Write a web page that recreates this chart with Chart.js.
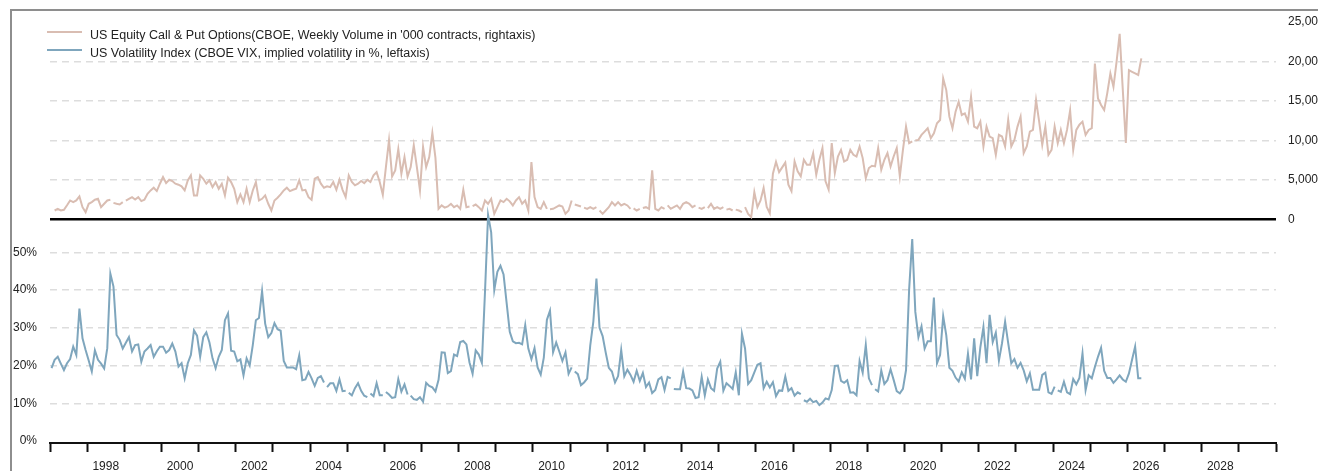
<!DOCTYPE html>
<html>
<head>
<meta charset="utf-8">
<title>US Equity Options Volume and VIX</title>
<script src="https://cdn.jsdelivr.net/npm/chart.js@4.4.1/dist/chart.umd.min.js"></script>
<style>
  html, body { margin: 0; padding: 0; background: #fff; }
  #wrap { width: 1318px; height: 471px; }
</style>
</head>
<body>
<div id="wrap"><canvas id="chart" width="1318" height="471"></canvas></div>
<script>
// monthly values from Jan 1997, one row per year (Jan..Dec)
const firstYear = 1997;

// US Equity Call & Put Options, weekly volume in '000 contracts (right axis)
const optionVolume = [
  null, 1140, 1350, 1140, 1230, 1800, 2410, 2200, 2410, 2920, 1560, 930, // 1997
  1990, 2200, 2500, 2620, 1560, 1990, 2410, 2500, 2100, 1990, 1900, 2200, // 1998
  2400, 2620, 2830, 2540, 2830, 2330, 2500, 3260, 3680, 4020, 3600, 4530, // 1999
  5370, 4610, 5030, 4860, 4530, 4400, 4190, 3680, 4950, 5580, 3050, 3050, // 2000
  5580, 5160, 4530, 4950, 4100, 4740, 3890, 4530, 3050, 5290, 4740, 3890, // 2001
  2200, 3170, 2200, 3890, 2200, 3680, 4740, 2410, 2620, 3050, 1990, 1140, // 2002
  2410, 2750, 3170, 3680, 4020, 3600, 3760, 3890, 4950, 3680, 3760, 2830, // 2003
  2500, 5160, 5370, 4530, 4020, 4190, 4100, 4740, 3760, 5030, 3760, 2830, // 2004
  5580, 4740, 4320, 4530, 4870, 4610, 5030, 4740, 5580, 6000, 4740, 3130, // 2005
  6640, 10030, 5450, 6220, 8900, 5800, 7900, 5450, 6640, 9390, 6640, 3680, // 2006
  9180, 6640, 7900, 10950, 7800, 1350, 1780, 1500, 1650, 1990, 1560, 1780, // 2007
  1350, 3770, 1560, 1650, 1700, 1900, 1560, 1140, 2410, 1990, 2620, 720, // 2008
  1560, 2410, 2200, 2620, 2300, 1780, 2410, 2830, 1990, 2410, 1140, 7270, // 2009
  2830, 1570, 1350, 2200, 1350, 1300, 1350, 1560, 1780, 1650, 720, 1140, // 2010
  2410, 1900, 1780, 1650, 1500, 1350, 1560, 1350, 1560, 1140, 720, 1140, // 2011
  1560, 2200, 1780, 2200, 1780, 1990, 1780, 1350, 1400, 1140, 1350, 1450, // 2012
  1560, 1350, 6220, 1350, 1140, 1560, 1350, 1780, 1350, 1560, 1780, 1350, // 2013
  1990, 2200, 1990, 1560, 1780, 1500, 1350, 1560, 1450, 1990, 1350, 1560, // 2014
  1350, 1560, 1250, 1350, 1140, 1250, 1140, 930, 1560, 700, 300, 3470, // 2015
  1560, 2400, 4000, 1600, 800, 5800, 7300, 6000, 6600, 7200, 4400, 3600, // 2016
  7350, 6090, 5460, 7560, 6930, 6930, 8400, 5670, 7560, 9030, 4830, 3780, // 2017
  9660, 5880, 7980, 8820, 7350, 7560, 8820, 8190, 7980, 9240, 7770, 5250, // 2018
  6510, 6800, 6720, 9030, 6300, 7560, 8400, 6720, 7980, 9030, 5460, 8820, // 2019
  11760, 9660, 9900, 10000, 10080, 10710, 11130, 11550, 10290, 10920, 12180, 12600, // 2020
  17850, 16380, 13020, 11550, 13650, 14910, 13230, 13440, 12390, 15540, 11760, 11550, // 2021
  12390, 9240, 11760, 10500, 10290, 8190, 10710, 10500, 9240, 12600, 9240, 10080, // 2022
  11760, 13020, 8400, 9240, 11130, 11340, 15120, 12390, 9450, 11760, 8190, 8820, // 2023
  11760, 9660, 11340, 9660, 11340, 13800, 8820, 11340, 12000, 12390, 10710, 11340, // 2024
  11550, 19740, 15330, 14500, 13860, 16000, 18480, 16800, 19950, 23500, 16500, 9700, // 2025
  18900, 18700, 18500, 18300, 20400, // 2026
];

// CBOE VIX month-end level, % (left axis)
const vixLevel = [
  19.3, 21.5, 22.3, 20.5, 18.8, 20.6, 21.7, 25.0, 22.8, 35.1, 27.2, 24.1, // 1997
  21.3, 18.4, 24.0, 21.5, 20.5, 19.2, 24.6, 44.3, 40.9, 28.1, 26.8, 24.5, // 1998
  26.0, 27.5, 23.7, 25.4, 25.6, 21.0, 23.7, 24.5, 25.4, 22.3, 23.8, 25.0, // 1999
  25.0, 23.4, 24.1, 25.8, 23.7, 19.7, 20.6, 16.6, 20.6, 22.8, 29.3, 27.9, // 2000
  22.3, 27.5, 28.8, 26.1, 21.9, 19.3, 22.3, 24.1, 32.0, 33.8, 23.9, 23.7, // 2001
  21.1, 21.6, 17.4, 21.9, 20.0, 25.4, 32.0, 32.6, 39.7, 31.1, 27.5, 28.6, // 2002
  31.2, 29.6, 29.2, 21.2, 19.5, 19.5, 19.5, 19.0, 22.7, 16.1, 16.3, 18.3, // 2003
  16.6, 14.6, 16.7, 17.2, 15.5, 14.3, 15.3, 15.3, 13.3, 16.3, 13.2, 13.3, // 2004
  12.8, 12.1, 14.0, 15.3, 13.3, 12.0, 11.6, 12.6, 11.9, 15.3, 12.1, 12.1, // 2005
  13.0, 12.3, 11.4, 11.6, 16.4, 13.1, 15.0, 12.3, 12.0, 11.1, 10.9, 11.6, // 2006
  10.4, 15.4, 14.6, 14.2, 13.1, 16.2, 23.5, 23.4, 18.0, 18.5, 22.9, 22.5, // 2007
  26.2, 26.5, 25.6, 20.8, 17.8, 24.0, 22.9, 20.7, 39.4, 59.9, 55.3, 40.0, // 2008
  44.8, 46.4, 44.1, 36.5, 28.9, 26.4, 25.9, 26.0, 25.6, 30.7, 24.5, 21.7, // 2009
  24.6, 19.5, 17.6, 22.1, 32.1, 34.5, 23.5, 26.1, 23.7, 21.2, 23.5, 17.8, // 2010
  19.5, 18.4, 17.7, 14.8, 15.5, 16.5, 25.3, 31.6, 43.0, 30.0, 27.8, 23.4, // 2011
  19.4, 18.4, 15.5, 17.2, 24.1, 17.1, 18.9, 17.5, 15.7, 18.6, 15.9, 18.0, // 2012
  14.3, 15.5, 12.7, 13.5, 16.3, 16.9, 13.5, 17.0, 16.6, 13.8, 13.7, 13.7, // 2013
  18.4, 14.0, 13.9, 13.4, 11.4, 11.6, 17.0, 12.1, 16.3, 14.0, 13.3, 19.2, // 2014
  21.0, 13.3, 15.3, 14.6, 13.8, 18.2, 12.1, 28.4, 24.5, 15.1, 16.1, 18.2, // 2015
  20.2, 20.6, 14.0, 15.7, 14.2, 15.6, 11.9, 13.4, 13.3, 17.1, 13.3, 14.0, // 2016
  12.0, 12.9, 12.4, 10.8, 10.4, 11.2, 10.3, 10.6, 9.5, 10.2, 11.3, 11.0, // 2017
  13.5, 19.9, 20.0, 15.9, 15.4, 16.1, 12.8, 12.9, 12.1, 21.2, 18.1, 25.4, // 2018
  16.6, 14.8, 13.7, 13.1, 18.7, 15.1, 16.1, 19.0, 16.2, 13.2, 12.6, 13.8, // 2019
  18.8, 40.1, 53.5, 34.2, 27.5, 30.4, 24.5, 26.4, 26.4, 38.0, 20.6, 22.8, // 2020
  33.1, 28.0, 19.4, 18.6, 16.8, 15.8, 18.2, 16.5, 23.1, 16.3, 27.2, 17.2, // 2021
  24.8, 30.2, 20.6, 33.4, 26.2, 28.7, 21.3, 25.9, 31.6, 25.9, 20.6, 21.7, // 2022
  19.4, 20.7, 18.7, 15.8, 17.9, 13.6, 13.6, 13.6, 17.5, 18.1, 12.9, 12.5, // 2023
  14.4, 13.4, 13.0, 15.7, 12.9, 12.4, 16.4, 15.0, 16.7, 23.2, 13.5, 17.4, // 2024
  16.6, 19.6, 22.3, 24.7, 18.6, 16.7, 16.7, 15.4, 16.3, 17.4, 16.3, 15.7, // 2025
  17.9, 21.5, 25.0, 16.6, 16.6, // 2026
];

// months after which the source line is broken (no segment to the next month)
const optionBreaks = ["1998-08", "1998-12", "2008-04", "2010-05", "2011-01", "2011-04", "2011-09",
  "2012-08", "2012-11", "2013-07", "2014-05", "2014-08", "2015-02", "2015-05", "2015-08", "2020-03"];
const vixBreaks = ["2004-05", "2004-12", "2005-07", "2005-12", "2006-08", "2011-01",
  "2013-09", "2017-03", "2019-02", "2024-01"];

const yearLabels = [1998, 2000, 2002, 2004, 2006, 2008, 2010, 2012, 2014, 2016, 2018, 2020, 2022, 2024, 2026, 2028];
const pctTicks = [0, 10, 20, 30, 40, 50];
const volumeTicks = [0, 5000, 10000, 15000, 20000, 25000];

// layout of the two panels (pixels on the canvas)
const plotTop = 22;       // 25,000 on the right axis
const plotBottom = 443;   // x axis line
const volZeroY = 219.5;   // black line, 0 on the right axis
const pctZeroY = 441;     // 0% on the left axis
const pxPerPct = 3.775;

const pxPerVol = (volZeroY - plotTop) / 25000;
const volMin = -(plotBottom - volZeroY) / pxPerVol;
const pctMin = -(plotBottom - pctZeroY) / pxPerPct;
const pctMax = (pctZeroY - plotTop) / pxPerPct;

const toPoints = (values) =>
  values.map((v, i) => ({ x: firstYear + (i + 0.5) / 12, y: v }));
const monthIndex = (key) => {
  const [y, m] = key.split("-").map(Number);
  return (y - firstYear) * 12 + (m - 1);
};
const optBreakIdx = new Set(optionBreaks.map(monthIndex));
const vixBreakIdx = new Set(vixBreaks.map(monthIndex));

const FONT = '"Liberation Sans", Arial, Helvetica, sans-serif';
Chart.defaults.font.family = FONT;
Chart.defaults.font.size = 12;
Chart.defaults.color = "#222";

const gridGrey = "#dddddd";
const clear = "rgba(0,0,0,0)";

// grey frame on the left and top
const framePlugin = {
  id: "frame",
  beforeDraw(chart) {
    const { ctx, width, height } = chart;
    ctx.save();
    ctx.strokeStyle = "#8e8e8e";
    ctx.lineWidth = 2;
    ctx.beginPath();
    ctx.moveTo(11, height);
    ctx.lineTo(11, 10);
    ctx.lineTo(width, 10);
    ctx.stroke();
    ctx.restore();
  },
};

// legend in the top left corner
const cornerLegend = {
  id: "cornerLegend",
  afterDraw(chart) {
    const { ctx } = chart;
    ctx.save();
    ctx.font = "12.5px " + FONT;
    ctx.textBaseline = "middle";
    chart.data.datasets.forEach((ds, i) => {
      const y = 36 + i * 18;
      ctx.strokeStyle = ds.borderColor;
      ctx.lineWidth = 2;
      ctx.beginPath();
      ctx.moveTo(47, y - 4);
      ctx.lineTo(82, y - 4);
      ctx.stroke();
      ctx.fillStyle = "#222";
      ctx.fillText(ds.label, 90, y);
    });
    ctx.restore();
  },
};

new Chart(document.getElementById("chart"), {
  type: "line",
  data: {
    datasets: [
      {
        label: "US Equity Call & Put Options(CBOE, Weekly Volume in '000 contracts, rightaxis)",
        data: toPoints(optionVolume),
        yAxisID: "yVol",
        borderColor: "#d9bdb2",
        borderWidth: 2,
        pointRadius: 0,
        tension: 0,
        spanGaps: false,
        segment: { borderColor: (c) => (optBreakIdx.has(c.p0DataIndex) ? clear : undefined) },
      },
      {
        label: "US Volatility Index (CBOE VIX, implied volatility in %, leftaxis)",
        data: toPoints(vixLevel),
        yAxisID: "yPct",
        borderColor: "#7fa6bd",
        borderWidth: 2,
        pointRadius: 0,
        tension: 0,
        spanGaps: false,
        segment: { borderColor: (c) => (vixBreakIdx.has(c.p0DataIndex) ? clear : undefined) },
      },
    ],
  },
  options: {
    responsive: false,
    animation: false,
    devicePixelRatio: 1,
    layout: { padding: { top: plotTop, left: 0, right: 0, bottom: 0 } },
    plugins: { legend: { display: false }, tooltip: { enabled: false } },
    scales: {
      x: {
        type: "linear",
        min: 1997,
        max: 2030,
        afterBuildTicks: (s) => {
          const t = [];
          for (let y = 1997; y <= 2030; y++) t.push({ value: y });
          yearLabels.forEach((y) => t.push({ value: y + 0.5 }));
          s.ticks = t.sort((a, b) => a.value - b.value);
        },
        afterFit: (s) => { s.height = 471 - plotBottom; },
        ticks: {
          autoSkip: false,
          maxRotation: 0,
          minRotation: 0,
          padding: 7,
          color: "#222",
          callback: (v) => (Number.isInteger(v) ? "" : String(v - 0.5)),
        },
        grid: {
          drawOnChartArea: false,
          drawTicks: true,
          tickLength: 9,
          tickWidth: 2,
          tickColor: (c) => (c.tick && Number.isInteger(c.tick.value) ? "#111" : clear),
        },
        border: { display: true, color: "#111", width: 2 },
      },
      yPct: {
        position: "left",
        min: pctMin,
        max: pctMax,
        afterBuildTicks: (s) => { s.ticks = pctTicks.map((v) => ({ value: v })); },
        afterFit: (s) => { s.width = 50; },
        ticks: { padding: 13, color: "#222", callback: (v) => v + "%" },
        grid: {
          drawTicks: false,
          lineWidth: 1.5,
          color: (c) => (c.tick && c.tick.value > 0 ? gridGrey : clear),
        },
        border: { display: false, dash: [7, 5] },
      },
      yVol: {
        position: "right",
        min: volMin,
        max: 25000,
        afterBuildTicks: (s) => { s.ticks = volumeTicks.map((v) => ({ value: v })); },
        afterFit: (s) => { s.width = 1318 - 1276; },
        ticks: {
          padding: 12,
          color: "#222",
          callback: (v) => v.toLocaleString("en-US"),
        },
        grid: {
          drawTicks: false,
          lineWidth: 1.5,
          color: (c) => (c.tick && c.tick.value > 0 && c.tick.value < 25000 ? gridGrey : clear),
        },
        border: { display: false, dash: [7, 5] },
      },
      yZero: {
        position: "right",
        min: volMin,
        max: 25000,
        afterBuildTicks: (s) => { s.ticks = [{ value: 0 }]; },
        afterFit: (s) => { s.width = 0; },
        ticks: { display: false },
        grid: { drawTicks: false, color: "#000", lineWidth: 2.5 },
        border: { display: false },
      },
    },
  },
  plugins: [framePlugin, cornerLegend],
});
</script>
</body>
</html>
